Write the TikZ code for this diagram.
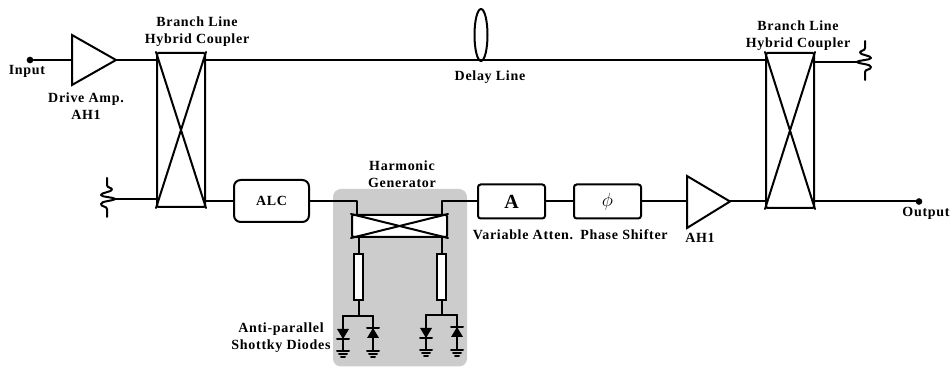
\documentclass[tikz,border=0pt]{standalone}
\usepackage{fontspec}
\usetikzlibrary{calc,shapes.geometric}
\setmainfont[LetterSpace=5]{Liberation Serif}
\tikzset{
  x=0.75pt,y=-0.75pt,
  wire/.style={line width=1.5pt,line cap=round,line join=round},
  cpl/.style={draw,line width=1.5pt,fill=white,rounded corners=1pt,inner sep=0pt},
  blockbox/.style={draw,line width=1.5pt,fill=white,rounded corners=2pt,inner sep=0pt,font=\bfseries},
  stub/.style={draw,line width=1.5pt,fill=white,inner sep=0pt,minimum width=6.75pt,minimum height=34.5pt},
  lab/.style={font=\fontsize{10.5}{12.75}\selectfont\bfseries,align=center,inner sep=0pt},
  dot/.style={circle,fill=black,inner sep=0pt,minimum size=5pt},
  ampl/.style={line width=1.5pt,line join=miter,fill=white},
}
\newcommand{\xcross}[1]{\draw[wire] (#1.north west) -- (#1.south east) (#1.north east) -- (#1.south west);}
\newcommand{\groundsym}[1]{\draw[wire] ($(#1)+(-6,0)$) -- ++(12,0) ($(#1)+(-4,3)$) -- ++(8,0) ($(#1)+(-2,6)$) -- ++(4,0);}
\newcommand{\diodedown}[3]{
  \coordinate (#3t) at (#1,#2);
  \coordinate (#3g) at (#1,#2+35);
  \draw[wire] (#3t) -- (#3g);
  \fill ($(#3t)+(-6,13)$) -- ++(12,0) -- ++(-6,10) -- cycle;
  \draw[wire] ($(#3t)+(-6,23)$) -- ++(12,0);
  \groundsym{#3g}
}
\newcommand{\diodeup}[3]{
  \coordinate (#3t) at (#1,#2);
  \coordinate (#3g) at (#1,#2+35);
  \draw[wire] (#3t) -- (#3g);
  \fill ($(#3t)+(0,12)$) -- ++(6,10) -- ++(-12,0) -- cycle;
  \draw[wire] ($(#3t)+(-6,12)$) -- ++(12,0);
  \groundsym{#3g}
}
\newcommand{\squiggle}[2]{
  \draw[wire,shift={(#1)},xscale=#2] (-8,-21) -- (-8,-14)
    .. controls (-8,-11) and (-3,-11.5) .. (-3,-9.5)
    .. controls (-3,-7) and (-14,-6.5) .. (-14,-4)
    .. controls (-14,-2) and (-2,-2) .. (0,0)
    .. controls (-2,2) and (-14,2) .. (-14,5)
    .. controls (-14,8) and (-8,7) .. (-8,10) -- (-8,18);
}
\begin{document}
\begin{tikzpicture}
\useasboundingbox (0,0) rectangle (951,367);
\fill[white] (0,0) rectangle (951,367);
\fill[black!20,rounded corners=6pt] (333,189) rectangle (467,366.5);

\node[dot] (in) at (30,60) {};
\node[dot] (out) at (919,201.5) {};
\coordinate (tl) at (115,199);
\coordinate (tr) at (857,62);

\node[cpl,minimum width=36pt,minimum height=115.5pt] (c1) at (181,130) {};
\node[cpl,minimum width=36pt,minimum height=116.25pt] (c2) at (790,130.5) {};
\node[cpl,minimum width=71.25pt,minimum height=16.5pt] (c3) at (399.5,226) {};

\coordinate (a1i) at (72,60);
\coordinate (a1o) at (116,60);
\coordinate (a2i) at (687,201.5);
\coordinate (a2o) at (730,201.5);

\node[blockbox,rounded corners=5pt,minimum width=56.25pt,minimum height=31.5pt,font=\fontsize{10.5}{12}\selectfont\bfseries] (alc) at (271.5,201) {ALC};
\node[blockbox,minimum width=50.25pt,minimum height=25.5pt,font=\fontsize{15}{15}\selectfont\bfseries] (att) at (511.5,201.5) {A};
\node[blockbox,minimum width=50.25pt,minimum height=25.5pt,font=\fontsize{14.4}{15}\selectfont] (ps) at (607.5,201.5) {$\phi$};

\node[stub] (s1) at (358.5,277) {};
\node[stub] (s2) at (441.5,277) {};

\draw[wire] (in) -- (a1i);
\draw[wire] (a1o) -- (c1.west |- a1o);
\draw[wire] (c1.east |- a1o) -- (c2.west |- a1o);
\draw[wire] (c2.east |- tr) -- (tr);
\draw[wire] (tl) -- (c1.west |- tl);
\draw[wire] (c1.east |- alc) -- (alc);
\draw[wire] (alc.east) -| ($(c3.north west)+(6,0)$);
\draw[wire] (att.west) -| ($(c3.north east)+(-6,0)$);
\draw[wire] (att) -- (ps);
\draw[wire] (ps) -- (a2i);
\draw[wire] (a2o) -- (c2.west |- a2o);
\draw[wire] (c2.east |- out) -- (out);
\draw[wire] (s1.north) -- (s1.north |- c3.south);
\draw[wire] (s2.north) -- (s2.north |- c3.south);

\xcross{c1}
\xcross{c2}
\xcross{c3}
\draw[ampl] (72,35) -- (a1o) -- (72,85) -- cycle;
\draw[ampl] (687,176) -- (a2o) -- (687,228) -- cycle;

\node[draw,line width=1.5pt,ellipse,minimum width=9.75pt,minimum height=39pt,inner sep=0pt] (dl) at (481,35) {};

\squiggle{tl}{1}
\squiggle{tr}{-1}

\diodedown{343}{316}{d1}
\diodeup{373}{316}{d2}
\diodedown{426}{315}{d3}
\diodeup{457}{315}{d4}
\draw[wire] (s1.south) -- (s1.south |- d1t);
\draw[wire] (s2.south) -- (s2.south |- d3t);
\draw[wire] (d1t) -- (d2t);
\draw[wire] (d3t) -- (d4t);

\node[lab] (l1) at (197,31.5) {Branch Line\\Hybrid Coupler};
\node[lab] (l2) at (798,36) {Branch Line\\Hybrid Coupler};
\node[lab] (l3) at (27,71) {Input};
\node[lab] (l4) at (86,106.5) {Drive Amp.\\AH1};
\node[lab] (l5) at (490,77.5) {Delay Line};
\node[lab] (l6) at (402,174) {Harmonic\\Generator};
\node[lab] (l7) at (523,234.5) {Variable Atten.};
\node[lab] (l8) at (624,234.5) {Phase Shifter};
\node[lab] (l9) at (700,237.5) {AH1};
\node[lab] (l10) at (926,213.5) {Output};
\node[lab] (l11) at (281,337.5) {Anti-parallel\\Shottky Diodes};
\end{tikzpicture}
\end{document}
